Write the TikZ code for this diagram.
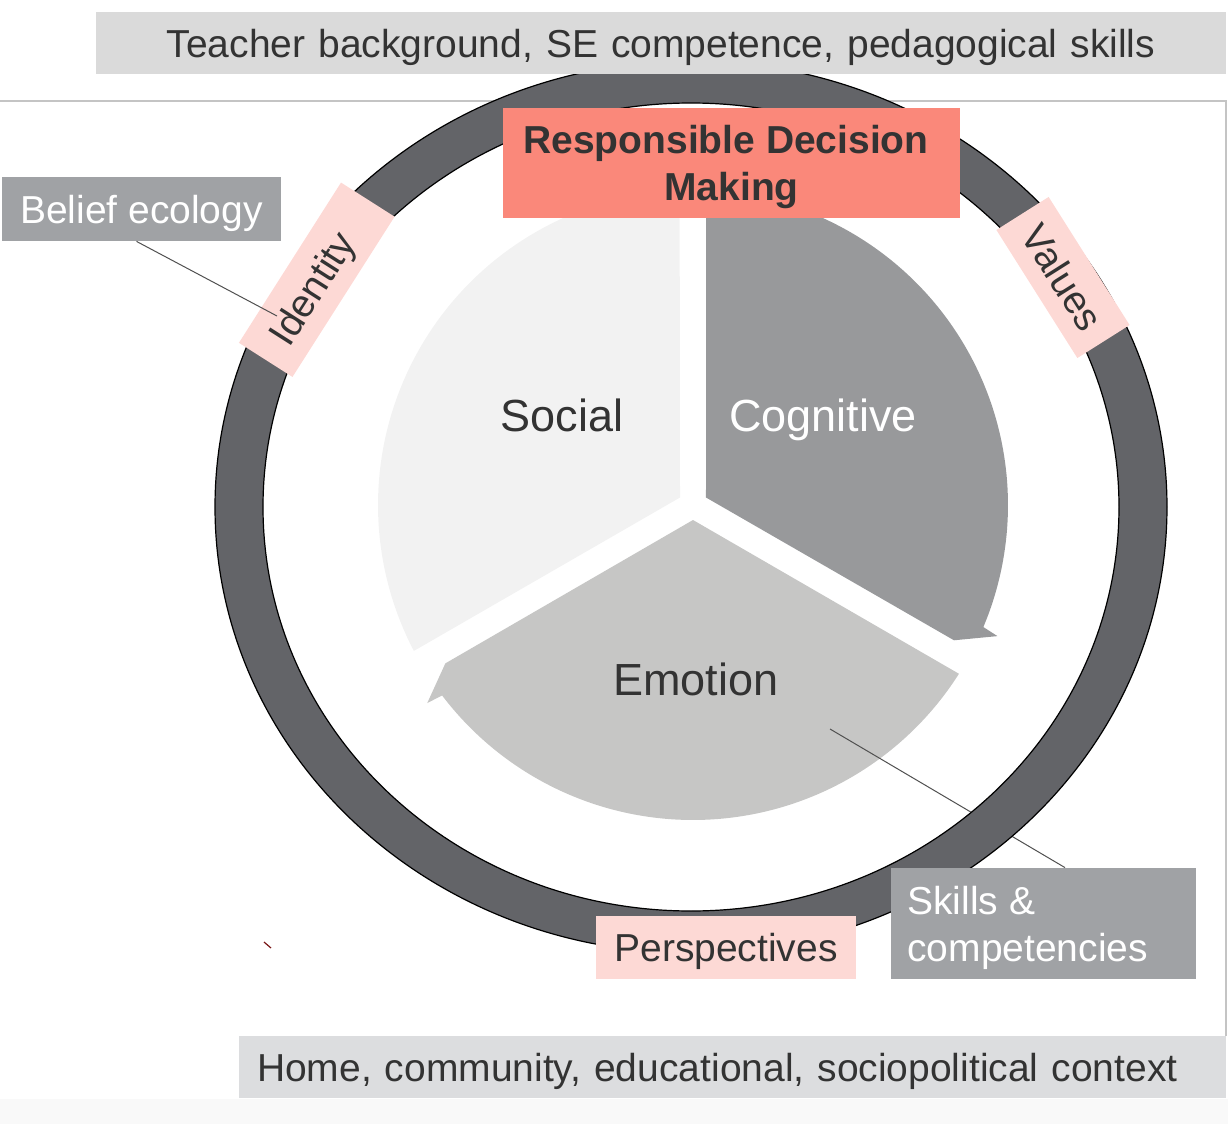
\documentclass[tikz,border=0pt]{standalone}
\usepackage{fontspec}
\setmainfont{Liberation Sans}
\usetikzlibrary{calc}
\definecolor{topgray}{RGB}{218,218,218}
\definecolor{botgray}{RGB}{220,221,223}
\definecolor{ringc}{RGB}{99,100,104}
\definecolor{socialc}{RGB}{242,242,242}
\definecolor{cognc}{RGB}{152,153,155}
\definecolor{emoc}{RGB}{198,198,197}
\definecolor{pinkc}{RGB}{253,217,213}
\definecolor{salmon}{RGB}{250,136,122}
\definecolor{labelgray}{RGB}{160,162,165}
\definecolor{txt}{RGB}{51,51,51}
\definecolor{framec}{RGB}{196,196,196}
\definecolor{leadc}{RGB}{80,80,80}
\definecolor{offwhite}{RGB}{249,249,249}
\definecolor{speck}{RGB}{120,20,20}
\newcommand{\myfs}{\fontsize{19.5}{23.5}\selectfont}
\newcommand{\myfl}{\fontsize{22.5}{27}\selectfont}
\pgfdeclarelayer{seglayer}
\pgfdeclarelayer{leadlayer}
\pgfsetlayers{seglayer,leadlayer,main}
\begin{document}
\begin{tikzpicture}[x=0.5pt,y=-0.5pt,
  lbl/.style={font=\myfs, text=txt, inner sep=0pt, text depth=0pt},
  big/.style={font=\myfl, inner sep=0pt},
  lead/.style={draw=leadc, line width=0.5pt}]
\useasboundingbox (0,0) rectangle (1228,1124);
\begin{pgfonlayer}{seglayer}
\fill[offwhite] (0,1099) rectangle (1228,1124);
\draw[framec, line width=1pt] (0,101) -- (1226,101) -- (1226,1036);
% segments
\coordinate (C) at (693,505);
\fill[socialc] ($(C)+(210:15)$) -- ($(C)+(152.4:315)$)
  arc[start angle=152.4,end angle=262.8,radius=315]
  -- ($(C)+(263.3:331.5)$) -- ($(C)+(267.4:294)$) -- cycle;
\fill[cognc] ($(C)+(330:15)$) -- ($(C)+(-87.6:315)$)
  arc[start angle=-87.6,end angle=22.8,radius=315]
  -- ($(C)+(23.3:331.5)$) -- ($(C)+(27.4:294)$) -- cycle;
\fill[emoc] ($(C)+(90:15)$) -- ($(C)+(32.4:315)$)
  arc[start angle=32.4,end angle=142.8,radius=315]
  -- ($(C)+(143.3:331.5)$) -- ($(C)+(147.4:294)$) -- cycle;
\end{pgfonlayer}
% ring
\coordinate (O) at (691,507);
\path[fill=ringc, draw=black, line width=0.6pt, even odd rule]
  (O) ellipse [x radius=476, y radius=446]
  (O) ellipse [x radius=428, y radius=404];
\node[big, text=txt, anchor=base] (social) at (562,431) {Social};
\node[big, text=white, anchor=base] (cognitive) at (823,431) {Cognitive};
\node[big, text=txt, anchor=base] (emotion) at (696,695) {Emotion};
% boxes
\node[fill=salmon, minimum width=228.5pt, minimum height=55pt, inner sep=0pt,
  text depth=0pt, align=center, font=\bfseries\myfs, text=txt] (rdm) at (731.5,163)
  {Responsible Decision\hspace*{5.5pt}\\Making};
\node[fill=pinkc, minimum width=95pt, minimum height=31.75pt, lbl, rotate=57.5]
  (identity) at (316.75,279.75) {Identity\hspace*{10pt}};
\node[fill=pinkc, minimum width=75.75pt, minimum height=30.9pt, lbl, rotate=-57.7]
  (values) at (1063,277.5) {Values};
\node[fill=pinkc, minimum width=130pt, minimum height=31.5pt, lbl]
  (persp) at (726,947.5) {Perspectives};
\node[fill=labelgray, minimum width=139.5pt, minimum height=32pt, inner sep=0pt,
  text depth=0pt, font=\myfs, text=white] (belief) at (141.5,209) {Belief ecology};
\node[fill=labelgray, minimum width=152.5pt, minimum height=55.5pt, inner sep=0pt]
  (skills) at (1043.5,923.5) {};
\node[anchor=base west, inner sep=0pt, font=\myfs, text=white]
  (skills1) at (907,914) {Skills \&};
\node[anchor=base west, inner sep=0pt, font=\myfs, text=white]
  (skills2) at (907,961) {competencies};
\node[fill=topgray, text width=565pt, inner xsep=0pt, inner ysep=0pt, text depth=0pt,
  minimum height=31pt, align=center, font=\myfs, text=txt]
  (top) at (661,43) {Teacher background, SE competence, pedagogical skills};
\node[fill=botgray, text width=475.5pt, inner xsep=9pt, inner ysep=0pt, text depth=0pt,
  minimum height=31pt, align=left, font=\myfs, text=txt]
  (bottom) at (732.5,1067) {Home, community, educational, sociopolitical context};
% leaders
\coordinate (beliefend) at (277,316);
\draw[lead] ([xshift=-2.5pt]belief.south) -- (beliefend);
\coordinate (skillsend) at (830,729);
\begin{pgfonlayer}{leadlayer}
\draw[lead] ([xshift=10.75pt]skills.north) -- (skillsend);
\end{pgfonlayer}
\draw[speck, line width=0.6pt] (264,942) -- (271,948);
\end{tikzpicture}
\end{document}
